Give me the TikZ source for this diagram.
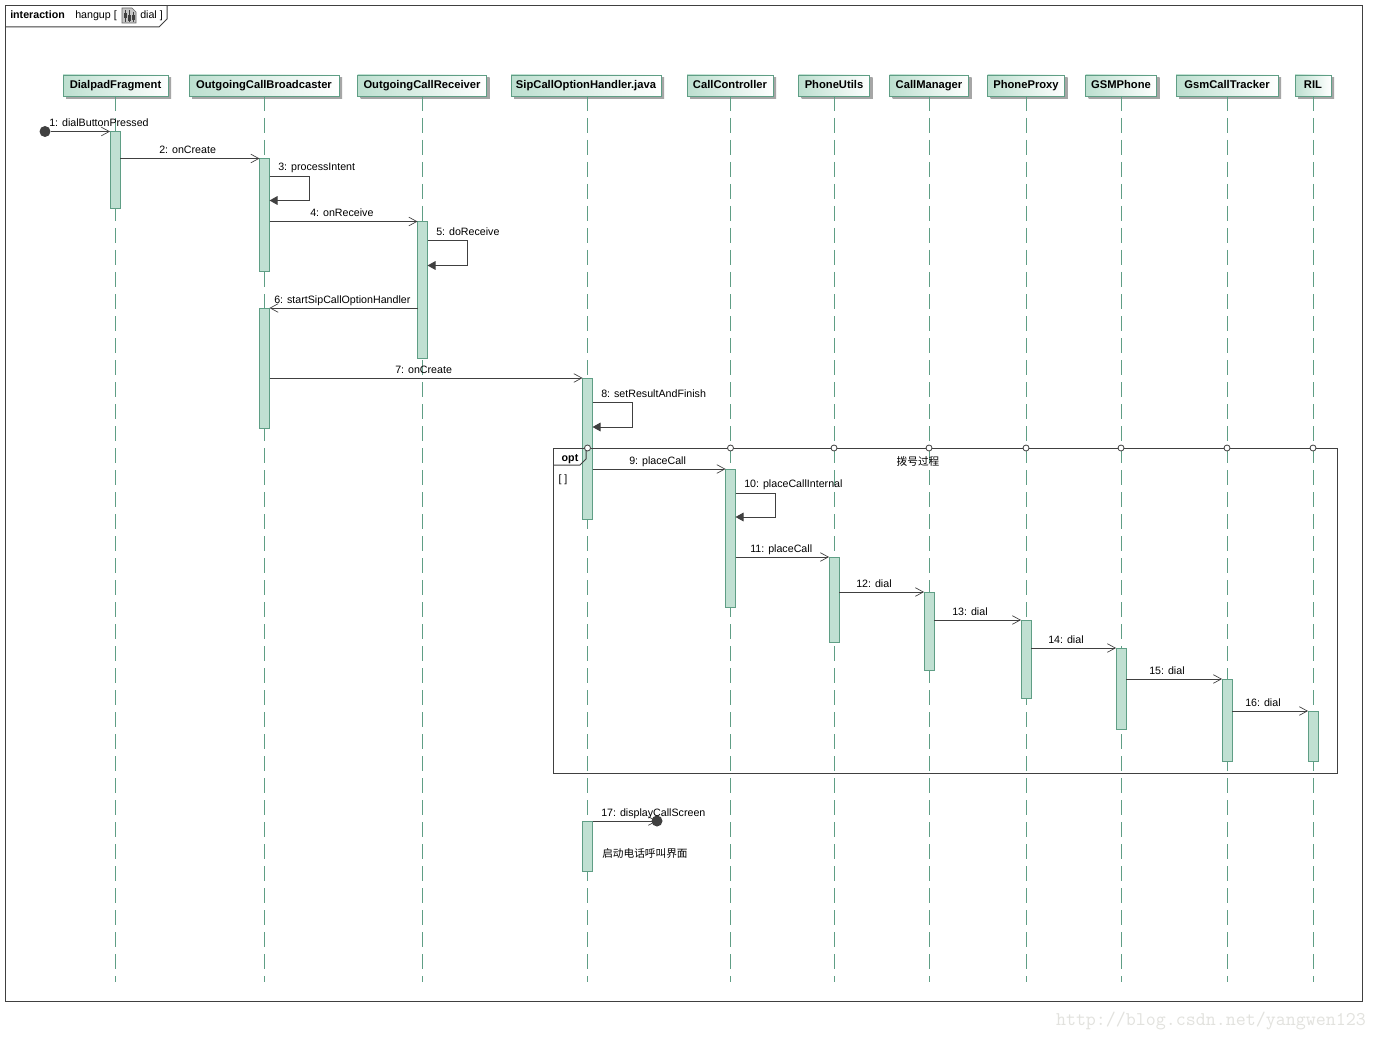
\documentclass[tikz,border=0pt]{standalone}
\usepackage{fontspec}
\setmainfont{Liberation Sans}
\newfontfamily\cjkfont{Noto Sans CJK SC}
\usetikzlibrary{arrows.meta,shadows}
\definecolor{framegray}{HTML}{404040}
\definecolor{tealline}{HTML}{5F9E85}
\definecolor{barfill}{HTML}{C0E0D2}
\definecolor{headfill}{HTML}{BCDFCF}
\definecolor{markgray}{HTML}{E2E2DE}
\tikzset{
  lifehead/.style={draw=tealline,line width=0.7pt,left color=headfill,right color=white,outer sep=0pt,
    minimum height=15.75pt,minimum width=#1*0.75pt,inner sep=0pt,text height=6pt,text depth=1.7pt,font=\fontsize{8.4}{9}\selectfont\bfseries,
    copy shadow={shadow xshift=2.25pt,shadow yshift=-2.25pt,draw=none,fill=black!35,left color=black!35,right color=black!35}},
  lifeline/.style={draw=tealline,line width=0.6pt,dash pattern=on 11pt off 5.5pt},
  actbar/.style={draw=tealline,fill=barfill,line width=0.75pt,outer sep=0pt,minimum width=7.5pt,minimum height=#1*0.75pt,inner sep=0pt},
  msg/.style={draw=framegray,line width=0.75pt,-{Straight Barb[length=6pt,width=6.5pt,line width=0.5pt]}},
  selfmsg/.style={draw=framegray,line width=0.75pt,-{Triangle[length=6pt,width=6.5pt,fill=framegray]}},
  msglabel/.style={anchor=west,inner sep=0pt,text height=6pt,text depth=1.7pt,yshift=-1.5pt,font=\fontsize{8}{9}\selectfont},
  framelabel/.style={msglabel},
  blackdot/.style={circle,fill=framegray,minimum size=8.25pt,inner sep=0pt},
  opendot/.style={circle,draw=framegray,fill=white,line width=0.6pt,minimum size=4.5pt,inner sep=0pt},
  cjklabel/.style={inner sep=0pt,font=\cjkfont\fontsize{8}{9}\selectfont}
}
\begin{document}
\begin{tikzpicture}[x=0.75pt,y=-0.75pt,line join=miter]
\useasboundingbox (0,0) rectangle (1377,1041);
\fill[white] (0,0) rectangle (1377,1041);
\path (0,982)coordinate(lineEnd);

% outer frame
\draw[framegray,line width=0.75pt] (5,6) rectangle (1362,1001);
\draw[framegray,line width=0.75pt] (5,27)--(159,27)--(167,19)--(167,6);
\node[framelabel,font=\fontsize{8}{9}\selectfont\bfseries] (frameKind) at (10,14) {interaction};
\node[framelabel] (frameName) at (75,14) {hangup [};
\node[framelabel] (frameRef) at (140,14) {dial ]};
\draw[black!60,fill=black!22,line width=0.5pt] (122,8)--(132,8)--(136,12)--(136,23)--(122,23)--cycle;
\draw[black!75,line width=0.5pt] (125,10)--(125,22) (129,10)--(129,22) (133,12)--(133,22);
\draw[black!75,line width=0.5pt] (124,13) rectangle (126,17) (128,15) rectangle (130,20) (132,15) rectangle (134,19);

% lifeline heads
\node[lifehead=105] (headA) at (115.5,85.5) {DialpadFragment};
\node[lifehead=150] (headB) at (264,85.5) {OutgoingCallBroadcaster};
\node[lifehead=129] (headC) at (422,85.5) {OutgoingCallReceiver};
\node[lifehead=150] (headD) at (586,85.5) {SipCallOptionHandler.java};
\node[lifehead=86] (headE) at (730,85.5) {CallController};
\node[lifehead=71] (headF) at (834,85.5) {PhoneUtils};
\node[lifehead=79] (headG) at (929,85.5) {CallManager};
\node[lifehead=77] (headH) at (1026,85.5) {PhoneProxy};
\node[lifehead=71] (headI) at (1121,85.5) {GSMPhone};
\node[lifehead=102] (headJ) at (1227,85.5) {GsmCallTracker};
\node[lifehead=36] (headK) at (1313,85.5) {RIL};
\path (headD.south)++(1.5,0)coordinate(lineD);

\foreach \h in {headA.south,headB.south,headC.south,lineD,headE.south,headF.south,headG.south,headH.south,headI.south,headJ.south,headK.south}
  \draw[lifeline] (\h)--(\h |- lineEnd);

% activation bars
\node[actbar=77] (barA) at (115,170) {};
\node[actbar=113] (barB) at (264.5,215) {};
\node[actbar=120] (barB2) at (264.5,368) {};
\node[actbar=137] (barC) at (422.5,290) {};
\node[actbar=141] (barD) at (587.5,448.5) {};
\node[actbar=138] (barE) at (730.5,538) {};
\node[actbar=85] (barF) at (834,599.5) {};
\node[actbar=78] (barG) at (929,631) {};
\node[actbar=78] (barH) at (1026,659) {};
\node[actbar=81] (barI) at (1121,688.5) {};
\node[actbar=82] (barJ) at (1227,720) {};
\node[actbar=50] (barK) at (1313,736) {};
\node[actbar=50] (barD2) at (587.5,846) {};

% messages
\node[blackdot] (startDot) at (45,131.5) {};
\node[blackdot] (endDot) at (657,821) {};
\draw[msg] (startDot)--(barA.north west);
\draw[msg] (barA.east |- barB.north)--(barB.north west);
\draw[msg] (barB.east |- barC.north)--(barC.north west);
\draw[msg] (barC.west |- barB2.north)--(barB2.north east);
\draw[msg] (barB2.east |- barD.north)--(barD.north west);
\draw[msg] (barD.east |- barE.north)--(barE.north west);
\draw[msg] (barE.east |- barF.north)--(barF.north west);
\draw[msg] (barF.east |- barG.north)--(barG.north west);
\draw[msg] (barG.east |- barH.north)--(barH.north west);
\draw[msg] (barH.east |- barI.north)--(barI.north west);
\draw[msg] (barI.east |- barJ.north)--(barJ.north west);
\draw[msg] (barJ.east |- barK.north)--(barK.north west);
\draw[msg] (barD2.north east)--(endDot.center);

% self calls
\draw[selfmsg] (barB.east |- 0,176.5)-|(309,200.5)--(barB.east |- 0,200.5);
\draw[selfmsg] (barC.east |- 0,240.5)-|(467,265.5)--(barC.east |- 0,265.5);
\draw[selfmsg] (barD.east |- 0,402)-|(632,427)--(barD.east |- 0,427);
\draw[selfmsg] (barE.east |- 0,493)-|(775,517)--(barE.east |- 0,517);

% opt fragment
\draw[framegray,line width=0.75pt] (553,448) rectangle (1337,773);
\draw[framegray,line width=0.75pt] (553,465)--(580,465)--(586,459)--(586,448);
\node[msglabel,anchor=center,font=\fontsize{8}{9}\selectfont\bfseries] (optKind) at (570,457) {opt};
\node[msglabel,anchor=center] (optGuard) at (563,478) {[ ]};
\foreach \b in {barD,barE,barF,barG,barH,barI,barJ,barK}
  \node[opendot] at (\b.center |- 0,448) {};
\node[cjklabel] (optNote) at (918,461) {拨号过程};
\node[cjklabel,anchor=west] (screenNote) at (602,853) {启动电话呼叫界面};

% labels
\node[msglabel] (msgA) at (49,122) {1: dialButtonPressed};
\node[msglabel] (msgB) at (159,149) {2: onCreate};
\node[msglabel] (msgC) at (278,166) {3: processIntent};
\node[msglabel] (msgD) at (310,212) {4: onReceive};
\node[msglabel] (msgE) at (436,231) {5: doReceive};
\node[msglabel] (msgF) at (274,299) {6: startSipCallOptionHandler};
\node[msglabel] (msgG) at (395,369) {7: onCreate};
\node[msglabel] (msgH) at (601,393) {8: setResultAndFinish};
\node[msglabel] (msgI) at (629,460) {9: placeCall};
\node[msglabel] (msgJ) at (744,483) {10: placeCallInternal};
\node[msglabel] (msgK) at (750,548) {11: placeCall};
\node[msglabel] (msgL) at (856,583) {12: dial};
\node[msglabel] (msgM) at (952,611) {13: dial};
\node[msglabel] (msgN) at (1048,639) {14: dial};
\node[msglabel] (msgO) at (1149,670) {15: dial};
\node[msglabel] (msgP) at (1245,702) {16: dial};
\node[msglabel] (msgQ) at (601,812) {17: displayCallScreen};

% watermark
\node[anchor=east,inner sep=0pt,text=markgray,font=\ttfamily\fontsize{14.55}{16}\selectfont] (blogMark) at (1366,1021) {http://blog.csdn.net/yangwen123};
\end{tikzpicture}
\end{document}
